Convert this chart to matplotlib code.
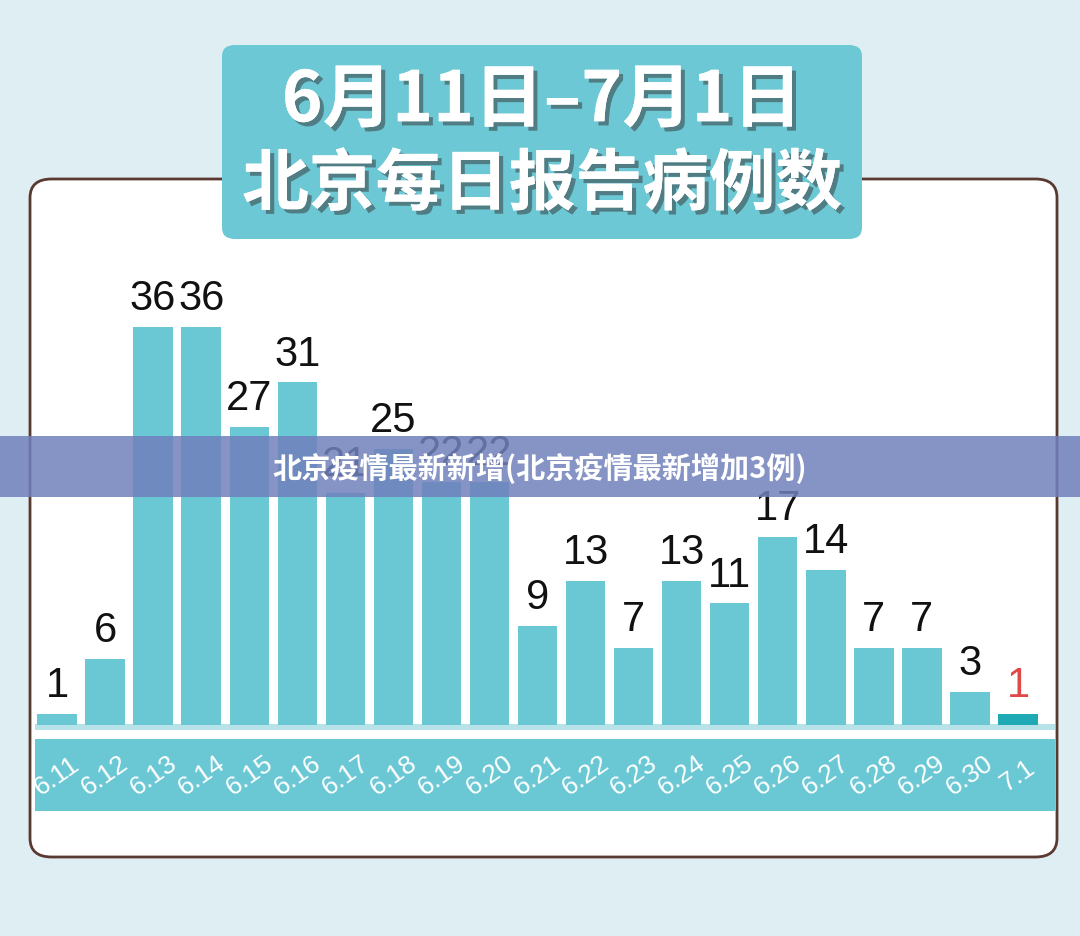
import matplotlib
matplotlib.use("Agg")
import matplotlib.pyplot as plt
import matplotlib.patheffects as pe
from matplotlib.patches import FancyBboxPatch, Rectangle

plt.rcParams['font.family'] = ['Noto Sans CJK SC', 'DejaVu Sans']

#%%-------------------- données --------------------
dates = ["6.11", "6.12", "6.13", "6.14", "6.15", "6.16", "6.17", "6.18", "6.19", "6.20", "6.21",
         "6.22", "6.23", "6.24", "6.25", "6.26", "6.27", "6.28", "6.29", "6.30", "7.1"]
cases = [1, 6, 36, 36, 27, 31, 21, 25, 22, 22, 9, 13, 7, 13, 11, 17, 14, 7, 7, 3, 1]

W, H = 1080, 937
fig = plt.figure(figsize=(W / 100, H / 100), dpi=100)
fig.patch.set_facecolor("#dfeef2")

def px(x, y):
    return x / W, 1 - y / H

# cadre blanc arrondi
x0, y0 = px(30, 858)
x1, y1 = px(1057, 180)
fig.patches.append(FancyBboxPatch((x0, y0), x1 - x0, y1 - y0, boxstyle="round,pad=0,rounding_size=0.02",
                                  transform=fig.transFigure, facecolor="white", edgecolor="#5a3a30", lw=2))

# bande des dates
bx0, by0 = px(35, 812)
bx1, by1 = px(1055, 740)
fig.patches.append(Rectangle((bx0, by0), bx1 - bx0, by1 - by0, transform=fig.transFigure,
                             facecolor="#6ac8d4", edgecolor="none"))
lx0, ly0 = px(35, 731)
lx1, ly1 = px(1055, 725)
fig.patches.append(Rectangle((lx0, ly0), lx1 - lx0, ly1 - ly0, transform=fig.transFigure,
                             facecolor="#b6e2e8", edgecolor="none"))

# axes des barres
ax_l, ax_b = px(35, 726)
ax_r, ax_t = px(1055, 180)
ax = fig.add_axes([ax_l, ax_b, ax_r - ax_l, ax_t - ax_b])
ax.set_zorder(3)
ax.set_facecolor("none")
ax.set_xlim(-0.458, 20.77)
ax.set_ylim(0, 49.4)
ax.axis("off")

xs = list(range(len(cases)))
colors = ["#6ac8d4"] * (len(cases) - 1) + ["#1fa9b5"]
ax.bar(xs, cases, width=0.82, color=colors)
for x, v in zip(xs, cases):
    c = "#e04848" if x == len(cases) - 1 else "#111111"
    ax.text(x, v + 0.8, str(v), ha="center", va="bottom", fontsize=30, color=c,
            family="Liberation Sans")
    tx, ty = ax.transData.transform((x, 0))
    fx, fy = fig.transFigure.inverted().transform((tx, ty))
    fig.text(fx, 1 - 776 / H, dates[x], rotation=35, ha="center", va="center", fontsize=19,
             color="white", family="Liberation Sans", zorder=4)

# boîte du titre
tx0, ty0 = px(222, 240)
tx1, ty1 = px(862, 46)
fig.patches.append(FancyBboxPatch((tx0, ty0), tx1 - tx0, ty1 - ty0, boxstyle="round,pad=0,rounding_size=0.012",
                                  transform=fig.transFigure, facecolor="#6cc8d4", edgecolor="none"))
shadow = [pe.withSimplePatchShadow(offset=(3, -3), shadow_rgbFace="#333333", alpha=0.5), pe.Normal()]
fig.text(0.5 * (tx0 + tx1), 1 - 102 / H, "6月11日–7月1日", ha="center", va="center", fontsize=50,
         fontweight="bold", color="white", path_effects=shadow)
fig.text(0.5 * (tx0 + tx1), 1 - 186 / H, "北京每日报告病例数", ha="center", va="center", fontsize=48,
         fontweight="bold", color="white", path_effects=shadow)

# bandeau
rx0, ry0 = px(0, 498)
rx1, ry1 = px(1080, 437)
fig.patches.append(Rectangle((rx0, ry0), rx1 - rx0, ry1 - ry0, transform=fig.transFigure,
                             facecolor="#7080bb", alpha=0.85, edgecolor="none", zorder=10))
fig.text(0.5, 1 - 468 / H, "北京疫情最新新增(北京疫情最新增加3例)", ha="center", va="center",
         fontsize=21, fontweight="bold", color="white", zorder=11)

fig.savefig("out.png", dpi=100, facecolor=fig.get_facecolor())
